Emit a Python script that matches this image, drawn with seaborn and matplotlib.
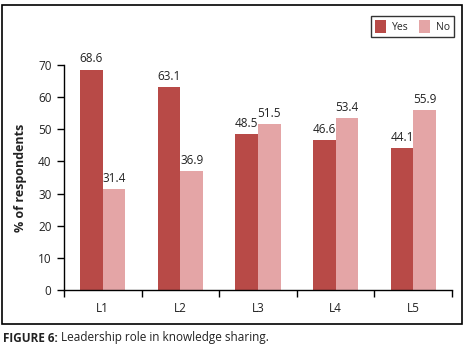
import matplotlib
matplotlib.use("Agg")
import matplotlib.pyplot as plt
import seaborn as sns
import pandas as pd
from matplotlib.patches import Rectangle, Patch

categories = ["L1", "L2", "L3", "L4", "L5"]
yes_values = [68.6, 63.1, 48.5, 46.6, 44.1]
no_values = [31.4, 36.9, 51.5, 53.4, 55.9]
series_names = ["Yes", "No"]
colors = ["#B84A47", "#E4A5A6"]
y_ticks = [0, 10, 20, 30, 40, 50, 60, 70]

df = pd.DataFrame({
    "cat": categories * 2,
    "val": yes_values + no_values,
    "series": [series_names[0]] * 5 + [series_names[1]] * 5,
})

sns.set_style("white")
plt.rcParams["font.family"] = ["Open Sans", "DejaVu Sans"]

fig = plt.figure(figsize=(4.65, 3.49), dpi=100)
ax = fig.add_axes([64 / 465, 1 - 290 / 349, (452 - 64) / 465, (290 - 65) / 349])

sns.barplot(data=df, x="cat", y="val", hue="series", palette=colors,
            width=0.58, saturation=1, ax=ax, legend=False, linewidth=0,
            edgecolor="none")

for cont in ax.containers:
    ax.bar_label(cont, fmt="%.1f", padding=3, fontsize=8.5, color="#222222")

ax.set_ylim(0, 70)
ax.set_xlim(-0.5, 4.5)
ax.set_yticks(y_ticks)
ax.set_yticklabels([str(t) for t in y_ticks], fontsize=8.5, color="#222222")
ax.set_xticks(range(5))
ax.set_xticklabels(categories, fontsize=8.5, color="#222222")
ax.tick_params(axis="x", length=0, pad=9)
ax.tick_params(axis="y", length=5, width=1, color="black", direction="out", left=True, pad=4)
ax.set_xticks([-0.5, 0.5, 1.5, 2.5, 3.5, 4.5], minor=True)
ax.tick_params(axis="x", which="minor", length=5, width=1, color="black", direction="out", bottom=True)

ax.set_xlabel("")
ax.set_ylabel("% of respondents", fontsize=9, fontweight="bold", color="#222222", labelpad=8)
for s in ["top", "right"]:
    ax.spines[s].set_visible(False)
for s in ["left", "bottom"]:
    ax.spines[s].set_color("black")
    ax.spines[s].set_linewidth(1)

handles = [Patch(facecolor=c, edgecolor="none") for c in colors]
leg = fig.legend(handles, series_names, loc="upper right",
                 bbox_to_anchor=(459 / 465, 1 - 11 / 349), ncol=2, fontsize=7.5,
                 frameon=True, fancybox=False, edgecolor="black",
                 handlelength=1.1, handleheight=1.5, columnspacing=1.0,
                 handletextpad=0.5, borderpad=0.4)
leg.get_frame().set_linewidth(1)

fig.patches.append(Rectangle((2 / 465, 1 - 324 / 349), 460 / 465, 319 / 349,
                             transform=fig.transFigure, fill=False,
                             edgecolor="black", linewidth=1.2))

t1 = fig.text(3 / 465, 1 - 338 / 349, "FIGURE 6:", fontsize=8.5, fontweight="bold",
              color="#222222", va="center", ha="left")
fig.canvas.draw()
bb = t1.get_window_extent()
fig.text((bb.x1 + 3) / 465, 1 - 338 / 349, "Leadership role in knowledge sharing.",
         fontsize=8.5, color="#222222", va="center", ha="left")

fig.savefig("out.png", dpi=100)
